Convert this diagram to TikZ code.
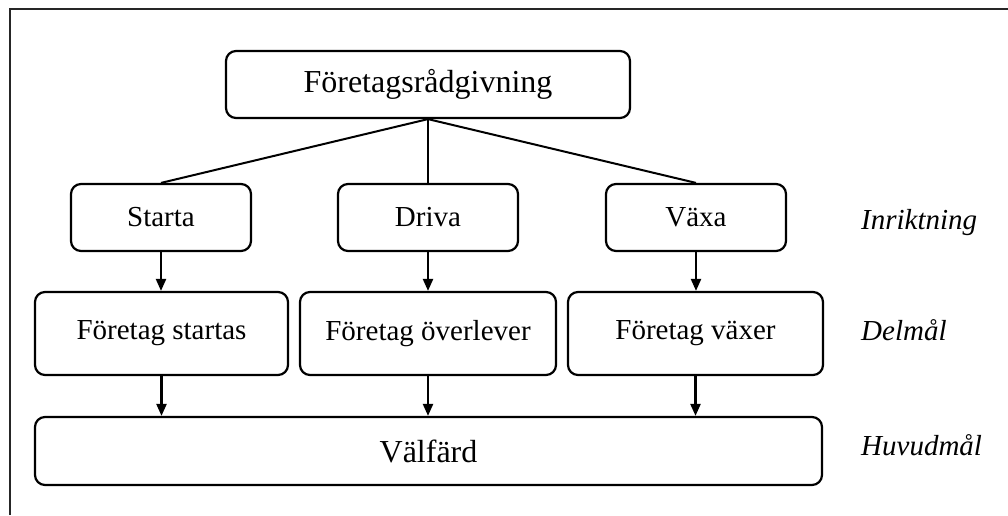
\documentclass[tikz,border=0pt]{standalone}
\usepackage{fontspec}
\setmainfont{Liberation Serif}
\usetikzlibrary{arrows.meta}
\tikzset{
  box/.style={draw=black, line width=2.2pt, rounded corners=10pt, inner sep=0pt, align=center},
  big/.style={font=\fontsize{32}{38}\selectfont},
  mid/.style={font=\fontsize{29}{34}\selectfont},
  lbl/.style={font=\fontsize{29}{34}\selectfont\itshape, anchor=base west, inner sep=0pt},
  conn/.style={line width=2pt},
  arr/.style={line width=2.2pt, -{Triangle[length=12pt,width=10pt]}},
  frame/.style={line width=2.6pt, draw=black!85}
}
\begin{document}
\begin{tikzpicture}[x=1pt, y=-1pt]
\useasboundingbox (0,0) rectangle (1008,515);
\draw[frame] (10,515) -- (10,9) -- (1008,9);

\node[box, big, minimum width=404pt, minimum height=67pt] (top) at (428,84.5) {Företagsrådgivning};

\node[box, mid, minimum width=180pt, minimum height=67pt] (starta) at (161,217.5) {Starta};
\node[box, mid, minimum width=180pt, minimum height=67pt] (driva) at (428,217.5) {Driva};
\node[box, mid, minimum width=180pt, minimum height=67pt] (vaxa) at (696,217.5) {Växa};

\node[box, mid, minimum width=253pt, minimum height=83pt] (d1) at (161.5,333.5) {Företag startas};
\node[box, mid, minimum width=256pt, minimum height=83pt] (d2) at (428,333.5) {Företag överlever};
\node[box, mid, minimum width=255pt, minimum height=83pt] (d3) at (695.5,333.5) {Företag växer};

\node[box, big, minimum width=787pt, minimum height=68pt] (valfard) at (428.5,451) {Välfärd};

\node[lbl] (l1) at (861,229) {Inriktning};
\node[lbl] (l2) at (861,340) {Delmål};
\node[lbl] (l3) at (861,455) {Huvudmål};

\draw[conn] (top.south) -- (starta.north);
\draw[line width=1.4pt] (top.south) -- (driva.north);
\draw[conn] (top.south) -- (vaxa.north);

\draw[arr] (starta.south) -- (starta.south |- d1.north);
\draw[arr] (driva.south) -- (driva.south |- d2.north);
\draw[arr] (vaxa.south) -- (vaxa.south |- d3.north);

\draw[arr] (d1.south) -- (d1.south |- valfard.north);
\draw[arr] (d2.south) -- (d2.south |- valfard.north);
\draw[arr] (d3.south) -- (d3.south |- valfard.north);
\end{tikzpicture}
\end{document}
